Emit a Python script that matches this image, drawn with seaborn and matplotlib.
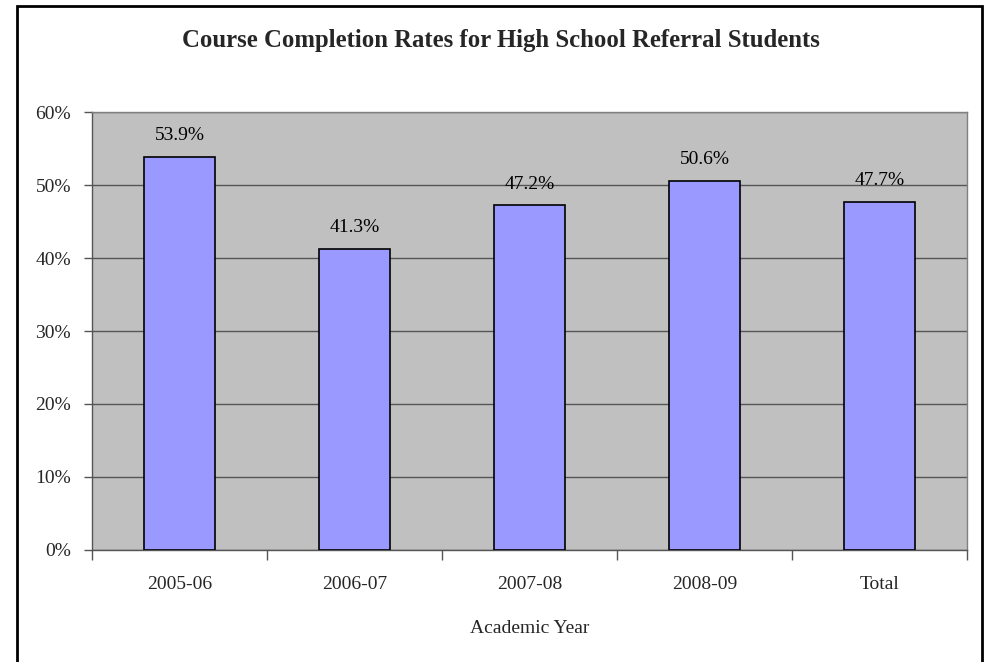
import pandas as pd
import matplotlib
matplotlib.use("Agg")
import matplotlib.pyplot as plt
import seaborn as sns
from matplotlib.patches import Rectangle
from matplotlib.ticker import PercentFormatter

# -------------------------
# Data
# -------------------------
years = ["2005-06", "2006-07", "2007-08", "2008-09", "Total"]
rates = [53.9, 41.3, 47.2, 50.6, 47.7]
labels = ["53.9%", "41.3%", "47.2%", "50.6%", "47.7%"]

df = pd.DataFrame({"year": years, "rate": rates})

sns.set_style("white")
plt.rcParams['font.family'] = ['Liberation Serif', 'DejaVu Serif']

fig = plt.figure(figsize=(9.87, 6.62), dpi=100)
ax = fig.add_axes([0.0932, 0.1692, 0.8865, 0.6616])
ax.set_facecolor("#C0C0C0")

sns.barplot(data=df, x="year", y="rate", color="#9999FF", width=0.41,
            edgecolor="black", linewidth=1.2, saturation=1, ax=ax, zorder=3)

# value labels above bars
for i, (v, t) in enumerate(zip(rates, labels)):
    ax.text(i, v + 2.9, t, ha="center", va="center", fontsize=14, color="black")

# -------------------------
# Axes styling
# -------------------------
ax.set_ylim(0, 60)
ax.set_xlim(-0.5, 4.5)
ax.set_yticks(range(0, 61, 10))
ax.yaxis.set_major_formatter(PercentFormatter(decimals=0))
ax.grid(axis="y", color="#555555", linewidth=1, zorder=0)
ax.set_axisbelow(True)

# tick marks between categories, labels centred under bars
ax.set_xticks([x - 0.5 for x in range(6)])
ax.set_xticklabels([])
ax.set_xticks(range(5), minor=True)
ax.set_xticklabels(years, minor=True)
ax.tick_params(axis="x", which="major", direction="out", length=7, width=1, color="#555555", bottom=True)
ax.tick_params(axis="x", which="minor", length=0, labelsize=14, pad=19)
ax.tick_params(axis="y", direction="out", length=6, width=1, color="#555555", left=True, labelsize=14, pad=9)

for s in ["left", "bottom"]:
    ax.spines[s].set_color("#555555")
    ax.spines[s].set_linewidth(1)
for s in ["top", "right"]:
    ax.spines[s].set_color("#808080")
    ax.spines[s].set_linewidth(1)

ax.set_xlabel("Academic Year", fontsize=14, labelpad=19)
ax.set_ylabel("")

fig.text(0.508, 0.939, "Course Completion Rates for High School Referral Students",
         ha="center", va="center", fontsize=17.8, fontweight="bold")

# outer chart border (bottom edge runs off the image)
fig.patches.append(Rectangle((0.0172, -0.02), 0.9777, 1.011, transform=fig.transFigure,
                             fill=False, edgecolor="black", linewidth=2))

fig.savefig("out.png", dpi=100)
